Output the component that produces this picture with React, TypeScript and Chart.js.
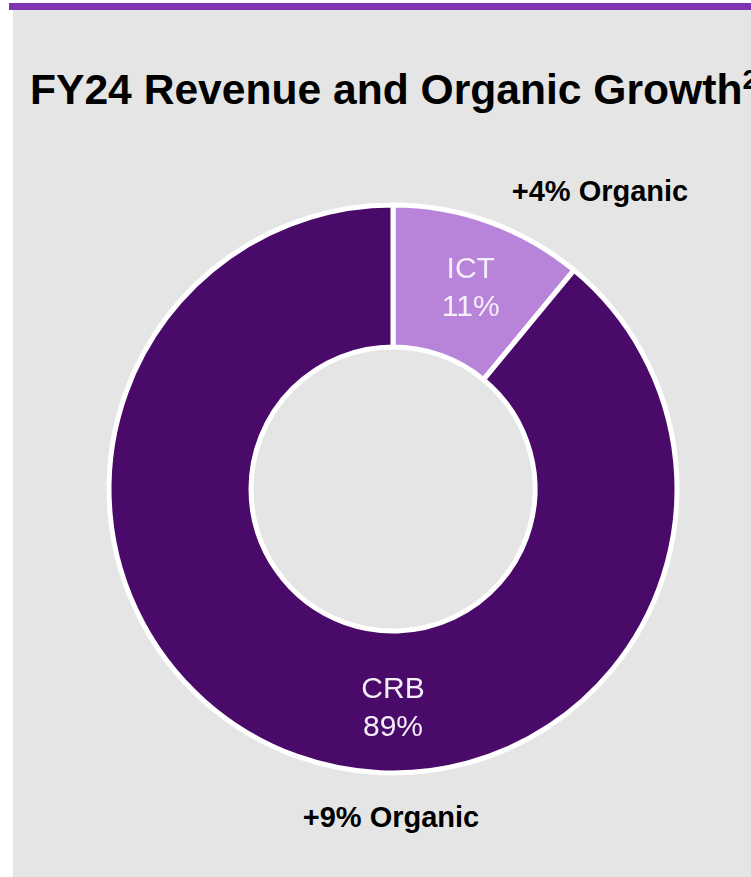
import React, { useEffect, useRef } from "react";
import { Chart, registerables } from "chart.js";

Chart.register(...registerables);

const categories = ["ICT", "CRB"];
const shares = [11, 89];
const growthLabels = ["+4% Organic", "+9% Organic"];
const titleText = "FY24 Revenue and Organic Growth";
const titleSup = "2";

const segmentColors = ["#b884da", "#4a0a6a"];

const segmentLabelPlugin = {
  id: "segmentLabels",
  afterDatasetsDraw(chart: any, _args: any, opts: any) {
    const ctx = chart.ctx;
    const meta = chart.getDatasetMeta(0);
    const angles: (number | null)[] = opts.angles || [];
    ctx.save();
    ctx.font = "30px 'Liberation Sans', Arial, sans-serif";
    ctx.fillStyle = "#f4eef9";
    ctx.textAlign = "center";
    ctx.textBaseline = "middle";
    meta.data.forEach((arc: any, i: number) => {
      const p = arc.getProps(["x", "y", "startAngle", "endAngle", "innerRadius", "outerRadius"], true);
      const a = angles[i] != null ? ((angles[i] as number) - 90) * Math.PI / 180 : (p.startAngle + p.endAngle) / 2;
      const r = (p.innerRadius + p.outerRadius) / 2 + 4;
      const cx = p.x + Math.cos(a) * r;
      const cy = p.y + Math.sin(a) * r + 2.5;
      const value = chart.data.datasets[0].data[i];
      ctx.fillText(String(chart.data.labels[i]), cx, cy - 19);
      ctx.fillText(value + "%", cx, cy + 19);
    });
    ctx.restore();
  },
};

export default function App() {
  const ref = useRef<HTMLCanvasElement | null>(null);

  useEffect(() => {
    if (!ref.current) return;
    const chart = new Chart(ref.current, {
      type: "doughnut",
      data: {
        labels: categories,
        datasets: [
          {
            data: shares,
            backgroundColor: segmentColors,
            borderColor: "#ffffff",
            borderWidth: 5,
            hoverOffset: 0,
          },
        ],
      },
      options: {
        animation: false,
        responsive: false,
        maintainAspectRatio: false,
        devicePixelRatio: 1,
        radius: 284,
        cutout: "50%",
        layout: { padding: { left: 35, right: 0, top: 101, bottom: 0 } },
        plugins: {
          legend: { display: false },
          tooltip: { enabled: false },
          title: { display: false },
          segmentLabels: { angles: [21, 180] },
        } as any,
      },
      plugins: [segmentLabelPlugin],
    });
    return () => chart.destroy();
  }, []);

  const font = "'Liberation Sans', Arial, Helvetica, sans-serif";

  return (
    <div
      style={{
        position: "absolute",
        left: 0,
        top: 0,
        width: 751,
        height: 877,
        overflow: "hidden",
        background: "#ffffff",
        fontFamily: font,
      }}
    >
      <div style={{ position: "absolute", left: 9, top: 3, width: 742, height: 7, background: "#7f35b2" }} />
      <div style={{ position: "absolute", left: 13, top: 10, width: 738, height: 867, background: "#e5e5e5" }} />
      <div
        style={{
          position: "absolute",
          left: 30,
          top: 68,
          whiteSpace: "nowrap",
          fontSize: 42.6,
          lineHeight: "42px",
          fontWeight: "bold",
          color: "#000",
        }}
      >
        {titleText}
        <sup style={{ fontSize: 28, lineHeight: 0 }}>{titleSup}</sup>
      </div>
      <div
        style={{
          position: "absolute",
          left: 500,
          width: 200,
          top: 177,
          textAlign: "center",
          fontSize: 29,
          lineHeight: "29px",
          fontWeight: "bold",
          color: "#000",
          whiteSpace: "nowrap",
        }}
      >
        {growthLabels[0]}
      </div>
      <div
        style={{
          position: "absolute",
          left: 291,
          width: 200,
          top: 803,
          textAlign: "center",
          fontSize: 29,
          lineHeight: "29px",
          fontWeight: "bold",
          color: "#000",
          whiteSpace: "nowrap",
        }}
      >
        {growthLabels[1]}
      </div>
      <canvas
        ref={ref}
        width={751}
        height={877}
        style={{ position: "absolute", left: 0, top: 0, width: 751, height: 877 }}
      />
    </div>
  );
}
